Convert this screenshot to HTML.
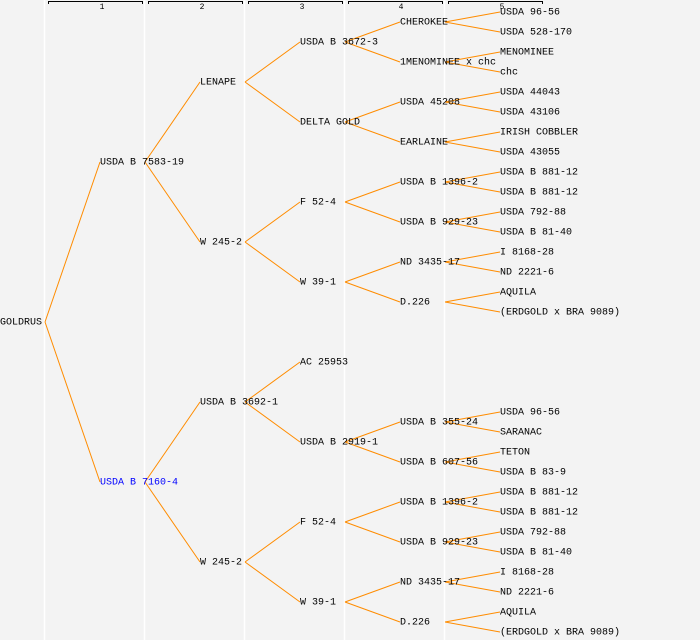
<!DOCTYPE html>
<html><head><style>
html,body{margin:0;padding:0;background:#f3f3f3;}
svg{display:block;}
text{font-family:"Liberation Mono","DejaVu Sans Mono",monospace;font-size:10px;fill:#000;dominant-baseline:middle;}
.h{font-size:8px;text-anchor:middle;}
</style></head><body>
<svg width="700" height="640" xmlns="http://www.w3.org/2000/svg">
<rect width="700" height="640" fill="#f3f3f3"/>
<g stroke="#fff" stroke-width="1.5">
<line x1="44.5" y1="0" x2="44.5" y2="640"/><line x1="144.5" y1="0" x2="144.5" y2="640"/>
<line x1="244.5" y1="0" x2="244.5" y2="640"/><line x1="344.5" y1="0" x2="344.5" y2="640"/>
<line x1="444.5" y1="0" x2="444.5" y2="640"/>
</g>
<g stroke="#000" stroke-width="1" fill="none">
<path d="M48.5 4V1.5H142.5V4"/><path d="M148.5 4V1.5H242.5V4"/><path d="M248.5 4V1.5H342.5V4"/>
<path d="M348.5 4V1.5H442.5V4"/><path d="M448.5 4V1.5H542.5V4"/>
</g>
<text class="h" x="102" y="7">1</text><text class="h" x="202" y="7">2</text><text class="h" x="302" y="7">3</text>
<text class="h" x="401" y="7">4</text><text class="h" x="502" y="7">5</text>
<g stroke="#ff8c00" stroke-width="1" fill="none">
<path d="M45 322L100 162M45 322L100 482"/>
<path d="M145 162L200 82M145 162L200 242M145 482L200 402M145 482L200 562"/>
<path d="M245 82L300 42M245 82L300 122M245 242L300 202M245 242L300 282M245 402L300 362M245 402L300 442M245 562L300 522M245 562L300 602"/>
<path d="M345 42L400 22M345 42L400 62M345 122L400 102M345 122L400 142M345 202L400 182M345 202L400 222M345 282L400 262M345 282L400 302M345 442L400 422M345 442L400 462M345 522L400 502M345 522L400 542M345 602L400 582M345 602L400 622"/>
<path d="M445 22L500 12M445 22L500 32M445 62L500 52M445 62L500 72M445 102L500 92M445 102L500 112M445 142L500 132M445 142L500 152M445 182L500 172M445 182L500 192M445 222L500 212M445 222L500 232M445 262L500 252M445 262L500 272M445 302L500 292M445 302L500 312"/>
<path d="M445 422L500 412M445 422L500 432M445 462L500 452M445 462L500 472M445 502L500 492M445 502L500 512M445 542L500 532M445 542L500 552M445 582L500 572M445 582L500 592M445 622L500 612M445 622L500 632"/>
</g>
<text x="0" y="322">GOLDRUS</text>
<text x="100" y="162">USDA B 7583-19</text>
<text x="100" y="482" style="fill:#0000ff">USDA B 7160-4</text>
<text x="200" y="82">LENAPE</text><text x="200" y="242">W 245-2</text>
<text x="200" y="402">USDA B 3692-1</text><text x="200" y="562">W 245-2</text>
<text x="300" y="42">USDA B 3672-3</text><text x="300" y="122">DELTA GOLD</text>
<text x="300" y="202">F 52-4</text><text x="300" y="282">W 39-1</text>
<text x="300" y="362">AC 25953</text><text x="300" y="442">USDA B 2919-1</text>
<text x="300" y="522">F 52-4</text><text x="300" y="602">W 39-1</text>
<text x="400" y="22">CHEROKEE</text><text x="400" y="62">1MENOMINEE x chc</text>
<text x="400" y="102">USDA 45208</text><text x="400" y="142">EARLAINE</text>
<text x="400" y="182">USDA B 1396-2</text><text x="400" y="222">USDA B 929-23</text>
<text x="400" y="262">ND 3435-17</text><text x="400" y="302">D.226</text>
<text x="400" y="422">USDA B 355-24</text><text x="400" y="462">USDA B 607-56</text>
<text x="400" y="502">USDA B 1396-2</text><text x="400" y="542">USDA B 929-23</text>
<text x="400" y="582">ND 3435-17</text><text x="400" y="622">D.226</text>
<text x="500" y="12">USDA 96-56</text><text x="500" y="32">USDA 528-170</text>
<text x="500" y="52">MENOMINEE</text><text x="500" y="72">chc</text>
<text x="500" y="92">USDA 44043</text><text x="500" y="112">USDA 43106</text>
<text x="500" y="132">IRISH COBBLER</text><text x="500" y="152">USDA 43055</text>
<text x="500" y="172">USDA B 881-12</text><text x="500" y="192">USDA B 881-12</text>
<text x="500" y="212">USDA 792-88</text><text x="500" y="232">USDA B 81-40</text>
<text x="500" y="252">I 8168-28</text><text x="500" y="272">ND 2221-6</text>
<text x="500" y="292">AQUILA</text><text x="500" y="312">(ERDGOLD x BRA 9089)</text>
<text x="500" y="412">USDA 96-56</text><text x="500" y="432">SARANAC</text>
<text x="500" y="452">TETON</text><text x="500" y="472">USDA B 83-9</text>
<text x="500" y="492">USDA B 881-12</text><text x="500" y="512">USDA B 881-12</text>
<text x="500" y="532">USDA 792-88</text><text x="500" y="552">USDA B 81-40</text>
<text x="500" y="572">I 8168-28</text><text x="500" y="592">ND 2221-6</text>
<text x="500" y="612">AQUILA</text><text x="500" y="632">(ERDGOLD x BRA 9089)</text>
</svg>
</body></html>
